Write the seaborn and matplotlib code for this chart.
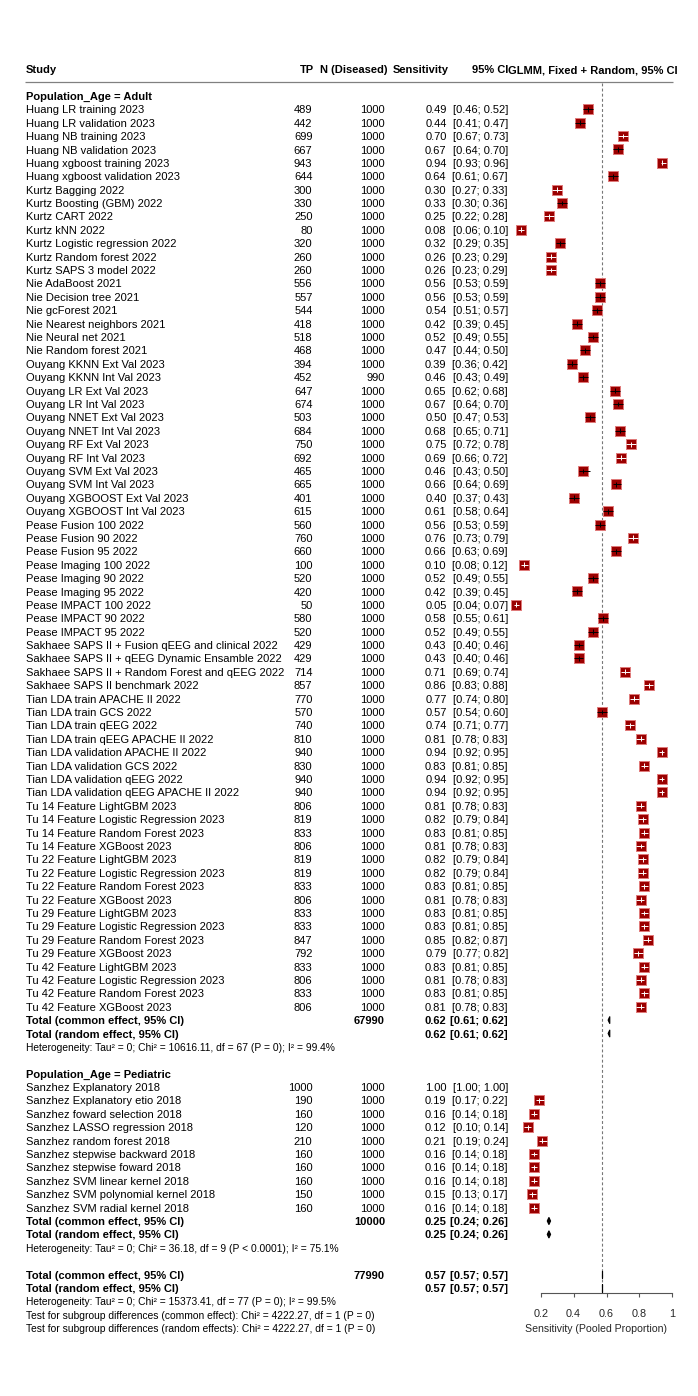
import numpy as np
import matplotlib
matplotlib.use("Agg")
import matplotlib.pyplot as plt
import seaborn as sns

sns.set_theme(style="white")
plt.rcParams["font.family"] = ["Liberation Sans", "DejaVu Sans"]

# ------------------------------
# DATA
# ------------------------------
adult_study = [
    "Huang LR training 2023", "Huang LR validation 2023", "Huang NB training 2023",
    "Huang NB validation 2023", "Huang xgboost training 2023", "Huang xgboost validation 2023",
    "Kurtz Bagging 2022", "Kurtz Boosting (GBM) 2022", "Kurtz CART 2022", "Kurtz kNN 2022",
    "Kurtz Logistic regression 2022", "Kurtz Random forest 2022", "Kurtz SAPS 3 model 2022",
    "Nie AdaBoost 2021", "Nie Decision tree 2021", "Nie gcForest 2021",
    "Nie Nearest neighbors 2021", "Nie Neural net 2021", "Nie Random forest 2021",
    "Ouyang KKNN Ext Val 2023", "Ouyang KKNN Int Val 2023", "Ouyang LR Ext Val 2023",
    "Ouyang LR Int Val 2023", "Ouyang NNET Ext Val 2023", "Ouyang NNET Int Val 2023",
    "Ouyang RF Ext Val 2023", "Ouyang RF Int Val 2023", "Ouyang SVM Ext Val 2023",
    "Ouyang SVM Int Val 2023", "Ouyang XGBOOST Ext Val 2023", "Ouyang XGBOOST Int Val 2023",
    "Pease Fusion 100 2022", "Pease Fusion 90 2022", "Pease Fusion 95 2022",
    "Pease Imaging 100 2022", "Pease Imaging 90 2022", "Pease Imaging 95 2022",
    "Pease IMPACT 100 2022", "Pease IMPACT 90 2022", "Pease IMPACT 95 2022",
    "Sakhaee SAPS II + Fusion qEEG and clinical 2022",
    "Sakhaee SAPS II + qEEG Dynamic Ensamble 2022",
    "Sakhaee SAPS II + Random Forest and qEEG 2022", "Sakhaee SAPS II benchmark 2022",
    "Tian LDA train APACHE II 2022", "Tian LDA train GCS 2022", "Tian LDA train qEEG 2022",
    "Tian LDA train qEEG APACHE II 2022", "Tian LDA validation APACHE II 2022",
    "Tian LDA validation GCS 2022", "Tian LDA validation qEEG 2022",
    "Tian LDA validation qEEG APACHE II 2022",
    "Tu 14 Feature LightGBM 2023", "Tu 14 Feature Logistic Regression 2023",
    "Tu 14 Feature Random Forest 2023", "Tu 14 Feature XGBoost 2023",
    "Tu 22 Feature LightGBM 2023", "Tu 22 Feature Logistic Regression 2023",
    "Tu 22 Feature Random Forest 2023", "Tu 22 Feature XGBoost 2023",
    "Tu 29 Feature LightGBM 2023", "Tu 29 Feature Logistic Regression 2023",
    "Tu 29 Feature Random Forest 2023", "Tu 29 Feature XGBoost 2023",
    "Tu 42 Feature LightGBM 2023", "Tu 42 Feature Logistic Regression 2023",
    "Tu 42 Feature Random Forest 2023", "Tu 42 Feature XGBoost 2023",
]
adult_tp = [489, 442, 699, 667, 943, 644, 300, 330, 250, 80, 320, 260, 260,
            556, 557, 544, 418, 518, 468, 394, 452, 647, 674, 503, 684, 750, 692,
            465, 665, 401, 615, 560, 760, 660, 100, 520, 420, 50, 580, 520,
            429, 429, 714, 857, 770, 570, 740, 810, 940, 830, 940, 940,
            806, 819, 833, 806, 819, 819, 833, 806, 833, 833, 847, 792,
            833, 806, 833, 806]
adult_n = [1000] * 20 + [990] + [1000] * 47
adult_sens = [0.49, 0.44, 0.70, 0.67, 0.94, 0.64, 0.30, 0.33, 0.25, 0.08, 0.32, 0.26, 0.26,
              0.56, 0.56, 0.54, 0.42, 0.52, 0.47, 0.39, 0.46, 0.65, 0.67, 0.50, 0.68, 0.75, 0.69,
              0.46, 0.66, 0.40, 0.61, 0.56, 0.76, 0.66, 0.10, 0.52, 0.42, 0.05, 0.58, 0.52,
              0.43, 0.43, 0.71, 0.86, 0.77, 0.57, 0.74, 0.81, 0.94, 0.83, 0.94, 0.94,
              0.81, 0.82, 0.83, 0.81, 0.82, 0.82, 0.83, 0.81, 0.83, 0.83, 0.85, 0.79,
              0.83, 0.81, 0.83, 0.81]
adult_lo = [0.46, 0.41, 0.67, 0.64, 0.93, 0.61, 0.27, 0.30, 0.22, 0.06, 0.29, 0.23, 0.23,
            0.53, 0.53, 0.51, 0.39, 0.49, 0.44, 0.36, 0.43, 0.62, 0.64, 0.47, 0.65, 0.72, 0.66,
            0.43, 0.64, 0.37, 0.58, 0.53, 0.73, 0.63, 0.08, 0.49, 0.39, 0.04, 0.55, 0.49,
            0.40, 0.40, 0.69, 0.83, 0.74, 0.54, 0.71, 0.78, 0.92, 0.81, 0.92, 0.92,
            0.78, 0.79, 0.81, 0.78, 0.79, 0.79, 0.81, 0.78, 0.81, 0.81, 0.82, 0.77,
            0.81, 0.78, 0.81, 0.78]
adult_hi = [0.52, 0.47, 0.73, 0.70, 0.96, 0.67, 0.33, 0.36, 0.28, 0.10, 0.35, 0.29, 0.29,
            0.59, 0.59, 0.57, 0.45, 0.55, 0.50, 0.42, 0.49, 0.68, 0.70, 0.53, 0.71, 0.78, 0.72,
            0.50, 0.69, 0.43, 0.64, 0.59, 0.79, 0.69, 0.12, 0.55, 0.45, 0.07, 0.61, 0.55,
            0.46, 0.46, 0.74, 0.88, 0.80, 0.60, 0.77, 0.83, 0.95, 0.85, 0.95, 0.95,
            0.83, 0.84, 0.85, 0.83, 0.84, 0.84, 0.85, 0.83, 0.85, 0.85, 0.87, 0.82,
            0.85, 0.83, 0.85, 0.83]

ped_study = [
    "Sanzhez Explanatory 2018", "Sanzhez Explanatory etio 2018",
    "Sanzhez foward selection 2018", "Sanzhez LASSO regression 2018",
    "Sanzhez random forest 2018", "Sanzhez stepwise backward 2018",
    "Sanzhez stepwise foward 2018", "Sanzhez SVM linear kernel 2018",
    "Sanzhez SVM polynomial kernel 2018", "Sanzhez SVM radial kernel 2018",
]
ped_tp = [1000, 190, 160, 120, 210, 160, 160, 160, 150, 160]
ped_n = [1000] * 10
ped_sens = [1.00, 0.19, 0.16, 0.12, 0.21, 0.16, 0.16, 0.16, 0.15, 0.16]
ped_lo = [1.00, 0.17, 0.14, 0.10, 0.19, 0.14, 0.14, 0.14, 0.13, 0.14]
ped_hi = [1.00, 0.22, 0.18, 0.14, 0.24, 0.18, 0.18, 0.18, 0.17, 0.18]

# pooled estimates: adult, pediatric, overall (common, random)
pool_label = ["Adult", "Pediatric", "Overall"]
pool_n = [67990, 10000, 77990]
pool_sens = [0.62, 0.25, 0.57]
pool_lo = [0.61, 0.24, 0.57]
pool_hi = [0.62, 0.26, 0.57]

het_text = [
    "Heterogeneity: Tau² = 0; Chi² = 10616.11, df = 67 (P = 0); I² = 99.4%",
    "Heterogeneity: Tau² = 0; Chi² = 36.18, df = 9 (P < 0.0001); I² = 75.1%",
    "Heterogeneity: Tau² = 0; Chi² = 15373.41, df = 77 (P = 0); I² = 99.5%",
]
subgroup_text = [
    "Test for subgroup differences (common effect): Chi² = 4222.27, df = 1 (P = 0)",
    "Test for subgroup differences (random effects): Chi² = 4222.27, df = 1 (P = 0)",
]
x_ticks = [0.2, 0.4, 0.6, 0.8, 1.0]
x_tick_labels = ["0.2", "0.4", "0.6", "0.8", "1"]

# ------------------------------
# LAYOUT (rows are 13.4 px apart)
# ------------------------------
W, H = 698, 1396
ROW = 13.394
Y0 = 109.3
Y_TOP = -Y0 / ROW
Y_BOT = (H - Y0) / ROW

adult_rows = np.arange(len(adult_study))
ped_rows = np.arange(len(ped_study)) + 73
pool_rows = [(68, 69), (83, 84), (87, 88)]
het_rows = [70, 85, 89]
AXIS_ROW = 88.4

X_STUDY, X_TP, X_N, X_EST, X_CI = 25.5, 312.5, 385, 446.5, 508
FS = 8
FS_HET = 7.35
BASE = 0.30  # baseline offset (rows) so text is centred on its row

SQ_COL = "#9a0000"
SQ_EDGE = "#e07a7a"

fig = plt.figure(figsize=(W / 100, H / 100), dpi=100)
ax_t = fig.add_axes([0, 0, 1, 1])
ax_t.set_xlim(0, W)
ax_t.set_ylim(Y_BOT, Y_TOP)
ax_t.axis("off")

X0 = 507.8
XSCALE = 164.5
ax_f = fig.add_axes([X0 / W, 0, XSCALE / W, 1])
ax_f.set_xlim(0, 1)
ax_f.set_ylim(Y_BOT, Y_TOP)
ax_f.patch.set_alpha(0)


def put(x, row, s, ha="left", bold=False, size=FS):
    ax_t.text(x, row + BASE, s, ha=ha, va="baseline", fontsize=size,
              fontweight="bold" if bold else "normal", color="black")


# header
put(X_STUDY, -3, "Study", bold=True)
put(X_TP + 1.5, -3, "TP", ha="right", bold=True)
put(X_N + 2, -3, "N (Diseased)", ha="right", bold=True)
put(X_EST + 2.5, -3, "Sensitivity", ha="right", bold=True)
put(X_CI, -3, "95% CI", ha="right", bold=True)
put(X_CI, -3, "GLMM, Fixed + Random, 95% CI", bold=True)
ax_t.hlines(-2.06, 25, 672.5, color="#808080", lw=0.9)


def study_block(label_row, rows, names, tp, n, sens, lo, hi):
    put(X_STUDY, label_row, label_row_text[label_row], bold=True)
    for r, nm, a, b, s, l, h in zip(rows, names, tp, n, sens, lo, hi):
        put(X_STUDY, r, nm)
        put(X_TP, r, str(a), ha="right")
        put(X_N, r, str(b), ha="right")
        put(X_EST, r, f"{s:.2f}", ha="right")
        put(X_CI, r, f"[{l:.2f}; {h:.2f}]", ha="right")

    tp = np.array(tp)
    n = np.array(n)
    drawn = tp < n  # zero-variance study gets no weight / square
    rows = np.array(rows)[drawn]
    sens = np.array(sens)[drawn]
    lo = np.array(lo)[drawn]
    hi = np.array(hi)[drawn]
    p = tp[drawn] / n[drawn]
    ci_w = 3.92 * np.sqrt(p * (1 - p) / n[drawn])
    inside = ci_w < 0.0575  # CI fits inside the square -> white line

    sns.scatterplot(x=sens, y=rows, marker="s", s=50, color=SQ_COL,
                    edgecolor=SQ_EDGE, linewidth=0.7, ax=ax_f, legend=False,
                    zorder=3)
    for r, s, l, h, ins in zip(rows, sens, lo, hi, inside):
        c = "white" if ins else "black"
        ax_f.hlines(r, l, h, color=c, lw=0.7, zorder=4)
        ax_f.vlines(s, r - 0.18, r + 0.18, color=c, lw=0.7, zorder=4)


label_row_text = {-1: "Population_Age = Adult", 72: "Population_Age = Pediatric"}
study_block(-1, adult_rows, adult_study, adult_tp, adult_n, adult_sens, adult_lo, adult_hi)
study_block(72, ped_rows, ped_study, ped_tp, ped_n, ped_sens, ped_lo, ped_hi)

# pooled rows + diamonds
for (rc, rr), hr, nn, s, l, h, k in zip(pool_rows, het_rows, pool_n, pool_sens,
                                       pool_lo, pool_hi, range(3)):
    put(X_STUDY, rc, "Total (common effect, 95% CI)", bold=True)
    put(X_STUDY, rr, "Total (random effect, 95% CI)", bold=True)
    put(X_N, rc, str(nn), ha="right", bold=True)
    for r in (rc, rr):
        put(X_EST, r, f"{s:.2f}", ha="right", bold=True)
        put(X_CI, r, f"[{l:.2f}; {h:.2f}]", ha="right", bold=True)
        ax_f.fill([l, s, h, s], [r, r - 0.27, r, r + 0.27], color="black",
                  lw=0.8, zorder=4)
    put(X_STUDY, hr, het_text[k], size=FS_HET)

put(X_STUDY, 90, subgroup_text[0], size=FS_HET)
put(X_STUDY, 91, subgroup_text[1], size=FS_HET)

# reference line at overall pooled estimate
ax_f.vlines(pool_sens[2], -1.95, AXIS_ROW, color="#777777", lw=0.8,
            linestyles=(0, (2.6, 2.0)), zorder=1)

# x axis
for sp in ["left", "right", "top"]:
    ax_f.spines[sp].set_visible(False)
ax_f.spines["bottom"].set_position(("data", AXIS_ROW))
ax_f.spines["bottom"].set_bounds(0.2, 1.0)
ax_f.spines["bottom"].set_color("#555555")
ax_f.spines["bottom"].set_linewidth(0.8)
ax_f.set_yticks([])
ax_f.set_xticks(x_ticks)
ax_f.set_xticklabels(x_tick_labels)
ax_f.tick_params(axis="x", direction="out", length=3, width=0.8, color="#555555",
                 pad=8.5, labelsize=7.8, bottom=True)
ax_f.set_xlabel("Sensitivity (Pooled Proportion)", fontsize=7.6)
ax_f.xaxis.set_label_coords((596 - X0) / XSCALE, 1 - 1328.5 / H)
ax_f.xaxis.label.set_va("center")
ax_f.grid(False)

fig.savefig("out.png", dpi=100)
